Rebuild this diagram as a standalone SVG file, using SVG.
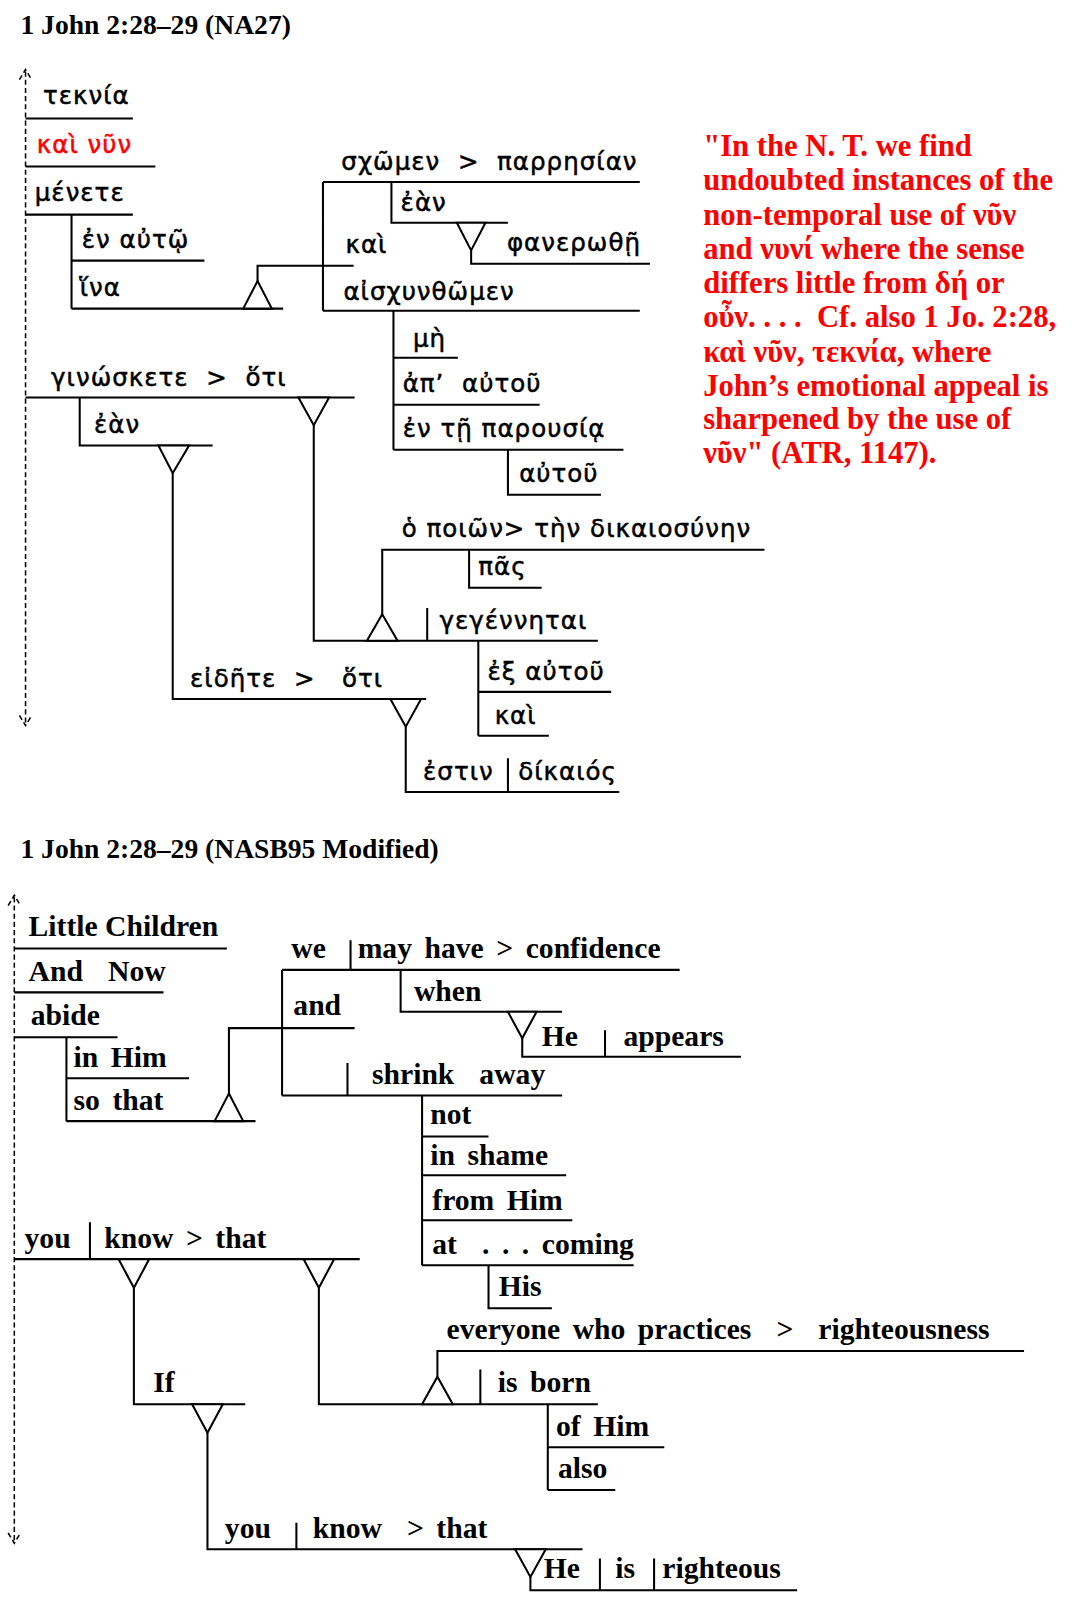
<svg xmlns="http://www.w3.org/2000/svg" width="1076" height="1600" viewBox="0 0 1076 1600">
<style>
.l{stroke:#000;stroke-width:2;fill:none}
.d{stroke:#000;stroke-width:1.5;fill:none;stroke-dasharray:5,3}
.t{fill:#fff;stroke:#000;stroke-width:2}
.g{font-family:"DejaVu Sans",sans-serif;font-size:24px;letter-spacing:1px;fill:#000;stroke:#000;stroke-width:0.5}
.e{font-family:"Liberation Serif",serif;font-weight:bold;font-size:29px;word-spacing:5px;fill:#000}
.h{font-family:"Liberation Serif",serif;font-weight:bold;font-size:27px;fill:#000}
.r{font-family:"Liberation Serif",serif;font-weight:bold;font-size:30px;fill:#f00}
</style>
<rect width="1076" height="1600" fill="#fff"/>
<g transform="scale(1.022)">
<text class="h" x="20" y="33">1 John 2:28–29 (NA27)</text>
<text class="h" x="20" y="840">1 John 2:28–29 (NASB95 Modified)</text>
<g id="connectors">
<path class="d" d="M25 70V708M19 78L25 68L31 78M19 700L25 710L31 700M14 878V1508M8 886L14 876L20 886M8 1500L14 1510L20 1500"/>
<path class="l" d="M25 116H130M25 163H152M25 210H130M70 210V302M70 255H200M70 302H277M252 275V260H346M316 178V304M316 178H626M383 178V218H497M461 245V258H636M316 304H626M385 304V440M385 350H448M385 396H528M385 440H610M497 440V484H588M25 389H347M78 389V436H208M169 463V684H417M307 416V627H585M374 601V538H748M459 538V575H530M418 595V627M468 627V720M468 677H598M468 720H537M397 711V775H606M497 742V775"/>
<path class="t" d="M238 302L252 275L266 302ZM447 218L475 218L461 245ZM155 436L185 436L169 463ZM292 389L322 389L307 416ZM359 627L374 601L389 627ZM382 684L412 684L397 711Z"/>
<path class="l" d="M14 928H222M14 971H160M14 1015H115M65 1015V1097M65 1055H185M65 1097H250M224 1070V1006H347M276 949V1072M276 949H665M343 920V949M392 949V990H550M511 1016V1034H725M592 1008V1034M340 1040V1072M276 1072H550M413 1072V1238M413 1112H478M413 1150H554M413 1194H560M413 1238H620M478 1238V1280H540M14 1232H352M88 1196V1232M131 1260V1374H240M312 1260V1374H585M428 1347V1322H1002M470 1340V1374M536 1374V1458M536 1416H650M536 1458H602M203 1402V1516H570M290 1490V1516M519 1543V1556H780M587 1525V1556M640 1525V1556"/>
<path class="t" d="M210 1097L224 1070L238 1097ZM497 990L525 990L511 1016ZM116 1232L146 1232L131 1260ZM297 1232L327 1232L312 1260ZM413 1374L428 1347L443 1374ZM188 1374L218 1374L203 1402ZM504 1516L534 1516L519 1543Z"/>
</g>
<g id="greek">
<text class="g" x="42" y="102">τεκνία</text>
<text class="g" x="36" y="150" style="fill:#f00;stroke:#f00">καὶ νῦν</text>
<text class="g" x="34" y="197">μένετε</text>
<text class="g" x="80" y="243">ἐν αὐτῷ</text>
<text class="g" x="78" y="290">ἵνα</text>
<text class="g" x="334" y="166" xml:space="preserve">σχῶμεν  &gt;  παρρησίαν</text>
<text class="g" x="392" y="206">ἐὰν</text>
<text class="g" x="496" y="246">φανερωθῇ</text>
<text class="g" x="338" y="248">καὶ</text>
<text class="g" x="336" y="294">αἰσχυνθῶμεν</text>
<text class="g" x="404" y="340">μὴ</text>
<text class="g" x="394" y="384" xml:space="preserve">ἀπ’  αὐτοῦ</text>
<text class="g" x="394" y="428">ἐν τῇ παρουσίᾳ</text>
<text class="g" x="508" y="472">αὐτοῦ</text>
<text class="g" x="50" y="378" xml:space="preserve">γινώσκετε  &gt;  ὅτι</text>
<text class="g" x="92" y="424">ἐὰν</text>
<text class="g" x="393" y="525">ὁ ποιῶν&gt; τὴν δικαιοσύνην</text>
<text class="g" x="468" y="563">πᾶς</text>
<text class="g" x="430" y="615">γεγέννηται</text>
<text class="g" x="477" y="665">ἐξ αὐτοῦ</text>
<text class="g" x="484" y="708">καὶ</text>
<text class="g" x="186" y="672" xml:space="preserve">εἰδῆτε  &gt;   ὅτι</text>
<text class="g" x="414" y="763">ἐστιν</text>
<text class="g" x="507" y="763">δίκαιός</text>
</g>
<g id="quote">
<text class="r" x="688" y="153">"In the N. T. we find</text>
<text class="r" x="688" y="186">undoubted instances of the</text>
<text class="r" x="688" y="220">non-temporal use of νῦν</text>
<text class="r" x="688" y="253">and νυνί where the sense</text>
<text class="r" x="688" y="287">differs little from δή or</text>
<text class="r" x="688" y="320" xml:space="preserve">οὖν. . . .  Cf. also 1 Jo. 2:28,</text>
<text class="r" x="688" y="354">καὶ νῦν, τεκνία, where</text>
<text class="r" x="688" y="387">John’s emotional appeal is</text>
<text class="r" x="688" y="420">sharpened by the use of</text>
<text class="r" x="688" y="453">νῦν" (ATR, 1147).</text>
</g>
<g id="english">
<text class="e" x="28" y="916" style="word-spacing:0">Little Children</text>
<text class="e" x="28" y="960" xml:space="preserve">And  Now</text>
<text class="e" x="30" y="1003">abide</text>
<text class="e" x="72" y="1044">in Him</text>
<text class="e" x="72" y="1086">so that</text>
<text class="e" x="285" y="937">we</text>
<text class="e" x="350" y="937">may have &gt; confidence</text>
<text class="e" x="405" y="979">when</text>
<text class="e" x="530" y="1023">He</text>
<text class="e" x="610" y="1023">appears</text>
<text class="e" x="287" y="993">and</text>
<text class="e" x="364" y="1061" xml:space="preserve">shrink  away</text>
<text class="e" x="421" y="1100">not</text>
<text class="e" x="421" y="1140">in shame</text>
<text class="e" x="423" y="1184">from Him</text>
<text class="e" x="423" y="1227" xml:space="preserve">at  . . . coming</text>
<text class="e" x="488" y="1268">His</text>
<text class="e" x="24" y="1221">you</text>
<text class="e" x="102" y="1221">know &gt; that</text>
<text class="e" x="437" y="1310" xml:space="preserve">everyone who practices  &gt;  righteousness</text>
<text class="e" x="487" y="1362">is born</text>
<text class="e" x="544" y="1405">of Him</text>
<text class="e" x="546" y="1446">also</text>
<text class="e" x="150" y="1362">If</text>
<text class="e" x="220" y="1505">you</text>
<text class="e" x="306" y="1505" xml:space="preserve">know  &gt; that</text>
<text class="e" x="532" y="1544">He</text>
<text class="e" x="602" y="1544">is</text>
<text class="e" x="648" y="1544">righteous</text>
</g>
</g>
</svg>
